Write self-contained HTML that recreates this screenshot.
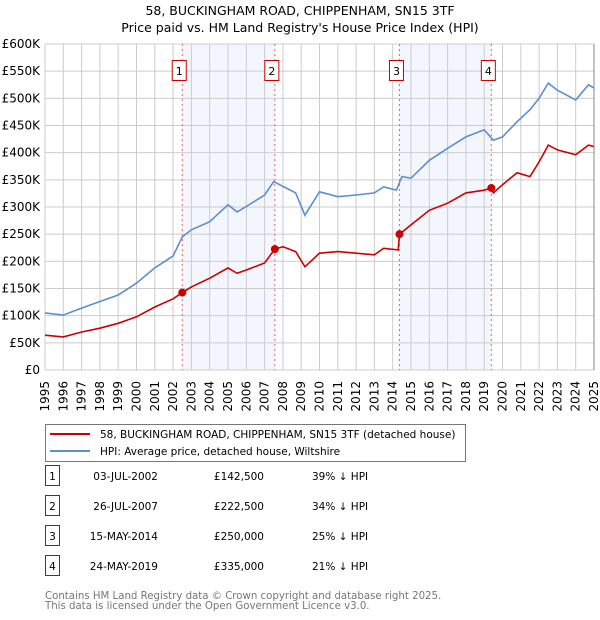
<!DOCTYPE html>
<html><head><meta charset="utf-8">
<style>
body{margin:0;background:#fff;font-family:"DejaVu Sans","Liberation Sans",sans-serif;}
svg{display:block}
</style></head>
<body>
<svg id="chart" width="600" height="620" xmlns="http://www.w3.org/2000/svg">
<text x="300" y="15" text-anchor="middle" font-size="12.5">58, BUCKINGHAM ROAD, CHIPPENHAM, SN15 3TF</text>
<text x="300" y="32" text-anchor="middle" font-size="12.5">Price paid vs. HM Land Registry's House Price Index (HPI)</text>
<g id="plot"></g>
<g>
<rect x="45.5" y="424.5" width="420" height="37" fill="#fff" stroke="#777"/>
<line x1="50" y1="434" x2="90" y2="434" stroke="#cc0000" stroke-width="2"/>
<text x="100" y="438" font-size="10.5">58, BUCKINGHAM ROAD, CHIPPENHAM, SN15 3TF (detached house)</text>
<line x1="50" y1="451" x2="90" y2="451" stroke="#5b8fd0" stroke-width="2"/>
<text x="100" y="455" font-size="10.5">HPI: Average price, detached house, Wiltshire</text>
</g>
<g id="table" font-size="10.5"></g>
<text x="45" y="599" font-size="10.2" fill="#777">Contains HM Land Registry data © Crown copyright and database right 2025.</text>
<text x="45" y="609" font-size="10.2" fill="#777">This data is licensed under the Open Government Licence v3.0.</text>
</svg>
<script>
const hpiYears=[1995,1996,1997,1998,1999,2000,2001,2002,2002.5,2003,2004,2005,2005.5,2006,2007,2007.5,2008,2008.7,2009.2,2010,2011,2012,2013,2013.5,2014.2,2014.5,2015,2016,2017,2018,2019,2019.5,2020,2020.8,2021.5,2022,2022.5,2023,2024,2024.7,2025];
const hpiValues=[105,101,114,126,138,160,188,210,245,258,273,304,291,301,322,347,338,326,285,328,319,322,326,337,331,356,353,386,408,429,442,423,429,457,479,500,528,515,497,525,519];
const propYears=[1995,1996,1997,1998,1999,2000,2001,2002,2002.5,2003,2004,2005,2005.5,2006,2007,2007.56,2008,2008.7,2009.2,2010,2011,2012,2013,2013.5,2014.3,2014.37,2015,2016,2017,2018,2019,2019.39,2019.5,2020,2020.8,2021.5,2022,2022.5,2023,2024,2024.7,2025];
const propValues=[64,61,70,77,86,98,116,131,142.5,153,169,188,178,184,197,222.5,227,218,190,215,218,215,212,224,221,250,267,294,307,326,331,335,326,341,363,356,383,414,405,396,414,411];
const saleLabels=["1","2","3","4"];
const saleYears=[2002.5,2007.56,2014.37,2019.39];
const saleValues=[142.5,222.5,250,335];
const saleDates=["03-JUL-2002","26-JUL-2007","15-MAY-2014","24-MAY-2019"];
const salePrices=["£142,500","£222,500","£250,000","£335,000"];
const saleDiffs=["39% ↓ HPI","34% ↓ HPI","25% ↓ HPI","21% ↓ HPI"];
const yTicks=[0,50,100,150,200,250,300,350,400,450,500,550,600];
const yTickLabels=["£0","£50K","£100K","£150K","£200K","£250K","£300K","£350K","£400K","£450K","£500K","£550K","£600K"];
const xTicks=[1995,1996,1997,1998,1999,2000,2001,2002,2003,2004,2005,2006,2007,2008,2009,2010,2011,2012,2013,2014,2015,2016,2017,2018,2019,2020,2021,2022,2023,2024,2025];

const NS="http://www.w3.org/2000/svg";
const X0=45,X1=594,Y0=370,Y1=44;
const xs=y=>X0+(y-1995)/30*(X1-X0);
const ys=v=>Y0-v/600*(Y0-Y1);
function mk(t,a,p){const e=document.createElementNS(NS,t);for(const k in a)e.setAttribute(k,a[k]);p.appendChild(e);return e;}
const plot=document.getElementById('plot');
const shade=mk('g',{},plot);


for(let i=0;i<saleYears.length;i+=2){
 const r=mk('rect',{x:xs(saleYears[i]),y:Y1,width:xs(saleYears[i+1])-xs(saleYears[i]),height:Y0-Y1,fill:'#f3f6fd'},shade);
 
 
}
const grid=mk('g',{stroke:'#cccccc','stroke-width':1},plot);


yTicks.forEach((v,i)=>{
 mk('line',{x1:X0,x2:X1,y1:ys(v),y2:ys(v)},grid);
 const t=mk('text',{x:40,y:ys(v)+4,'text-anchor':'end','font-size':12,fill:'#000',stroke:'none'},plot);
 t.textContent=yTickLabels[i];
 
 
});
xTicks.forEach(y=>{
 mk('line',{x1:xs(y),x2:xs(y),y1:Y1,y2:Y0},grid);
 const x=xs(y)+4;
 const t=mk('text',{x:x,y:381,'text-anchor':'end','font-size':12,transform:`rotate(-90 ${x} 381)`},plot);
 t.textContent=y;
 
 
});
const vl=mk('g',{stroke:'#f06060','stroke-width':1,'stroke-dasharray':'2,3'},plot);


saleYears.forEach((y,i)=>{
 mk('line',{x1:xs(y),x2:xs(y),y1:Y1,y2:Y0},vl);
 const g=mk('g',{},plot);
 
 
 mk('rect',{x:xs(y)-10,y:60.5,width:14,height:20,fill:'#fff',stroke:'#cc0000'},g);
 const t=mk('text',{x:xs(y)-3,y:75,'text-anchor':'middle','font-size':11},g);
 t.textContent=saleLabels[i];
});
function line(xsArr,vals,col,name){
 const p=mk('path',{d:xsArr.map((y,i)=>(i?'L':'M')+xs(y).toFixed(1)+','+ys(vals[i]).toFixed(1)).join(''),fill:'none',stroke:col,'stroke-width':1.6},plot);
 
 
}
line(hpiYears,hpiValues,'#5b8fd0','hpi-line');
line(propYears,propValues,'#cc0000','property-line');
saleYears.forEach((y,i)=>{
 const c=mk('circle',{cx:xs(y),cy:ys(saleValues[i]),r:4,fill:'#cc0000'},plot);
 
 
});
mk('line',{x1:X1,x2:X1,y1:Y1,y2:Y0,stroke:'#888'},plot);
const tb=document.getElementById('table');
saleLabels.forEach((l,i)=>{
 const y=483+i*30;
 const g=mk('g',{},tb);
 
 
 mk('rect',{x:45.5,y:y-17.5,width:14,height:20,fill:'#fff',stroke:'#cc0000'},g);
 let t=mk('text',{x:52.5,y:y-3,'text-anchor':'middle'},g);t.textContent=l;
 t=mk('text',{x:158,y:y-3,'text-anchor':'end'},g);t.textContent=saleDates[i];
 t=mk('text',{x:264,y:y-3,'text-anchor':'end'},g);t.textContent=salePrices[i];
 t=mk('text',{x:312,y:y-3},g);t.textContent=saleDiffs[i];
});
</script>
</body></html>
